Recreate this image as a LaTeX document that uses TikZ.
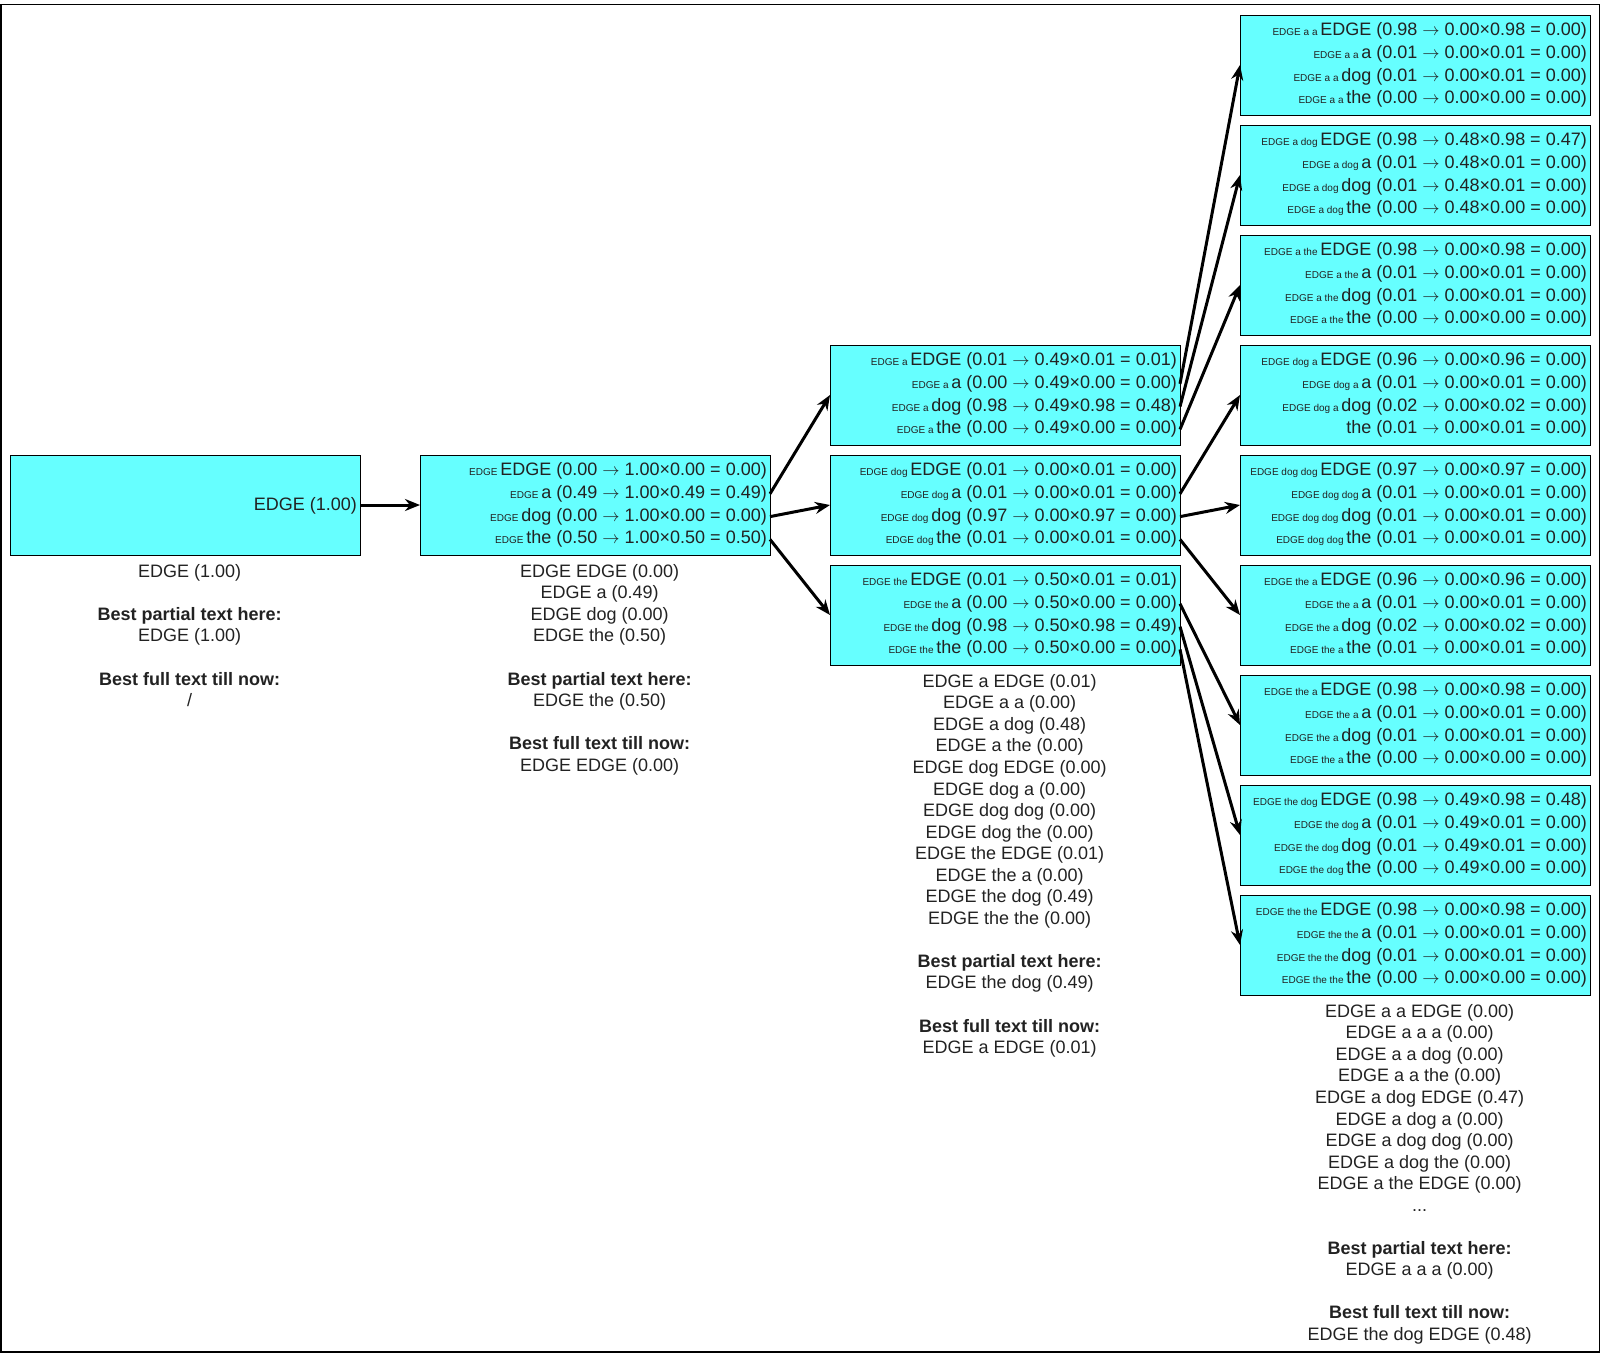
\documentclass[tikz,border=0pt]{standalone}
\usepackage{fontspec}
\setmainfont{Liberation Sans}
\usetikzlibrary{positioning,arrows.meta}
\definecolor{beamcyan}{HTML}{66FFFF}
\definecolor{inkgray}{HTML}{222222}
% small history prefix in front of a token
\newcommand{\hist}[1]{{\fontsize{10}{12}\selectfont #1 }}
% the arrow between a score and its product
\newcommand{\yields}{$\rightarrow$}
% four scored rows inside a beam box
\newcommand{\beamrows}[5]{%
  \foreach \txt [count=\i] in {{#2},{#3},{#4},{#5}}
    \node[beamrow] (#1-\i) at ([yshift=6.8-22.8*\i]#1.north east) {\txt};}

\begin{document}
\begin{tikzpicture}
    [x=1pt, y=1pt,
    beam/.style={draw, line width=1pt, fill=beamcyan, minimum width=350pt, minimum height=100pt, inner sep=0pt, outer sep=0pt},
    beamrow/.style={anchor=east, inner xsep=3pt, inner ysep=0pt, text height=13pt, text depth=4pt, text=inkgray, font=\fontsize{18}{22}\selectfont},
    notes/.style={align=center, inner sep=0pt, xshift=4.6pt, text=inkgray, font=\fontsize{18}{21.55}\selectfont},
    link/.style={-{Stealth[length=15pt, width=12pt]}, line width=3pt}]
        \useasboundingbox (0,0) rectangle (1601,-1355);
        \draw[line width=1.3pt] (1,-4.5) rectangle (1599.5,-1352);

        % step 0
        \node[beam, anchor=north west] (b0) at (10,-455) {};
        \node[beamrow] (b0-1) at ([yshift=-0.5]b0.east) {EDGE (1.00)};
        \node[notes, below=9pt of b0] (n0) {EDGE (1.00)\\[21.55pt]
            \textbf{Best partial text here:}\\ EDGE (1.00)\\[21.55pt]
            \textbf{Best full text till now:}\\ /};

        % step 1
        \node[beam, right=60pt of b0] (b1) {};
        \beamrows{b1}{\hist{EDGE}EDGE (0.00 \yields{} 1.00×0.00 = 0.00)}
            {\hist{EDGE}a (0.49 \yields{} 1.00×0.49 = 0.49)}
            {\hist{EDGE}dog (0.00 \yields{} 1.00×0.00 = 0.00)}
            {\hist{EDGE}the (0.50 \yields{} 1.00×0.50 = 0.50)}
        \node[notes, below=9pt of b1] (n1) {EDGE EDGE (0.00)\\ EDGE a (0.49)\\
            EDGE dog (0.00)\\ EDGE the (0.50)\\[21.55pt]
            \textbf{Best partial text here:}\\ EDGE the (0.50)\\[21.55pt]
            \textbf{Best full text till now:}\\ EDGE EDGE (0.00)};

        % step 2
        \node[beam, right=60pt of b1] (bd) {};
        \node[beam, above=10pt of bd] (ba) {};
        \node[beam, below=10pt of bd] (bt) {};
        \beamrows{ba}{\hist{EDGE a}EDGE (0.01 \yields{} 0.49×0.01 = 0.01)}
            {\hist{EDGE a}a (0.00 \yields{} 0.49×0.00 = 0.00)}
            {\hist{EDGE a}dog (0.98 \yields{} 0.49×0.98 = 0.48)}
            {\hist{EDGE a}the (0.00 \yields{} 0.49×0.00 = 0.00)}
        \beamrows{bd}{\hist{EDGE dog}EDGE (0.01 \yields{} 0.00×0.01 = 0.00)}
            {\hist{EDGE dog}a (0.01 \yields{} 0.00×0.01 = 0.00)}
            {\hist{EDGE dog}dog (0.97 \yields{} 0.00×0.97 = 0.00)}
            {\hist{EDGE dog}the (0.01 \yields{} 0.00×0.01 = 0.00)}
        \beamrows{bt}{\hist{EDGE the}EDGE (0.01 \yields{} 0.50×0.01 = 0.01)}
            {\hist{EDGE the}a (0.00 \yields{} 0.50×0.00 = 0.00)}
            {\hist{EDGE the}dog (0.98 \yields{} 0.50×0.98 = 0.49)}
            {\hist{EDGE the}the (0.00 \yields{} 0.50×0.00 = 0.00)}
        \node[notes, below=9pt of bt] (n2) {EDGE a EDGE (0.01)\\ EDGE a a (0.00)\\
            EDGE a dog (0.48)\\ EDGE a the (0.00)\\ EDGE dog EDGE (0.00)\\
            EDGE dog a (0.00)\\ EDGE dog dog (0.00)\\ EDGE dog the (0.00)\\
            EDGE the EDGE (0.01)\\ EDGE the a (0.00)\\ EDGE the dog (0.49)\\
            EDGE the the (0.00)\\[21.55pt]
            \textbf{Best partial text here:}\\ EDGE the dog (0.49)\\[21.55pt]
            \textbf{Best full text till now:}\\ EDGE a EDGE (0.01)};

        % step 3
        \node[beam, right=60pt of bd] (bdd) {};
        \node[beam, above=10pt of bdd] (bda) {};
        \node[beam, above=10pt of bda] (bat) {};
        \node[beam, above=10pt of bat] (bad) {};
        \node[beam, above=10pt of bad] (baa) {};
        \node[beam, below=10pt of bdd] (bdt) {};
        \node[beam, below=10pt of bdt] (bta) {};
        \node[beam, below=10pt of bta] (btd) {};
        \node[beam, below=10pt of btd] (btt) {};
        \beamrows{baa}{\hist{EDGE a a}EDGE (0.98 \yields{} 0.00×0.98 = 0.00)}
            {\hist{EDGE a a}a (0.01 \yields{} 0.00×0.01 = 0.00)}
            {\hist{EDGE a a}dog (0.01 \yields{} 0.00×0.01 = 0.00)}
            {\hist{EDGE a a}the (0.00 \yields{} 0.00×0.00 = 0.00)}
        \beamrows{bad}{\hist{EDGE a dog}EDGE (0.98 \yields{} 0.48×0.98 = 0.47)}
            {\hist{EDGE a dog}a (0.01 \yields{} 0.48×0.01 = 0.00)}
            {\hist{EDGE a dog}dog (0.01 \yields{} 0.48×0.01 = 0.00)}
            {\hist{EDGE a dog}the (0.00 \yields{} 0.48×0.00 = 0.00)}
        \beamrows{bat}{\hist{EDGE a the}EDGE (0.98 \yields{} 0.00×0.98 = 0.00)}
            {\hist{EDGE a the}a (0.01 \yields{} 0.00×0.01 = 0.00)}
            {\hist{EDGE a the}dog (0.01 \yields{} 0.00×0.01 = 0.00)}
            {\hist{EDGE a the}the (0.00 \yields{} 0.00×0.00 = 0.00)}
        \beamrows{bda}{\hist{EDGE dog a}EDGE (0.96 \yields{} 0.00×0.96 = 0.00)}
            {\hist{EDGE dog a}a (0.01 \yields{} 0.00×0.01 = 0.00)}
            {\hist{EDGE dog a}dog (0.02 \yields{} 0.00×0.02 = 0.00)}
            {the (0.01 \yields{} 0.00×0.01 = 0.00)}
        \beamrows{bdd}{\hist{EDGE dog dog}EDGE (0.97 \yields{} 0.00×0.97 = 0.00)}
            {\hist{EDGE dog dog}a (0.01 \yields{} 0.00×0.01 = 0.00)}
            {\hist{EDGE dog dog}dog (0.01 \yields{} 0.00×0.01 = 0.00)}
            {\hist{EDGE dog dog}the (0.01 \yields{} 0.00×0.01 = 0.00)}
        \beamrows{bdt}{\hist{EDGE the a}EDGE (0.96 \yields{} 0.00×0.96 = 0.00)}
            {\hist{EDGE the a}a (0.01 \yields{} 0.00×0.01 = 0.00)}
            {\hist{EDGE the a}dog (0.02 \yields{} 0.00×0.02 = 0.00)}
            {\hist{EDGE the a}the (0.01 \yields{} 0.00×0.01 = 0.00)}
        \beamrows{bta}{\hist{EDGE the a}EDGE (0.98 \yields{} 0.00×0.98 = 0.00)}
            {\hist{EDGE the a}a (0.01 \yields{} 0.00×0.01 = 0.00)}
            {\hist{EDGE the a}dog (0.01 \yields{} 0.00×0.01 = 0.00)}
            {\hist{EDGE the a}the (0.00 \yields{} 0.00×0.00 = 0.00)}
        \beamrows{btd}{\hist{EDGE the dog}EDGE (0.98 \yields{} 0.49×0.98 = 0.48)}
            {\hist{EDGE the dog}a (0.01 \yields{} 0.49×0.01 = 0.00)}
            {\hist{EDGE the dog}dog (0.01 \yields{} 0.49×0.01 = 0.00)}
            {\hist{EDGE the dog}the (0.00 \yields{} 0.49×0.00 = 0.00)}
        \beamrows{btt}{\hist{EDGE the the}EDGE (0.98 \yields{} 0.00×0.98 = 0.00)}
            {\hist{EDGE the the}a (0.01 \yields{} 0.00×0.01 = 0.00)}
            {\hist{EDGE the the}dog (0.01 \yields{} 0.00×0.01 = 0.00)}
            {\hist{EDGE the the}the (0.00 \yields{} 0.00×0.00 = 0.00)}
        \node[notes, below=9pt of btt] (n3) {EDGE a a EDGE (0.00)\\ EDGE a a a (0.00)\\
            EDGE a a dog (0.00)\\ EDGE a a the (0.00)\\ EDGE a dog EDGE (0.47)\\
            EDGE a dog a (0.00)\\ EDGE a dog dog (0.00)\\ EDGE a dog the (0.00)\\
            EDGE a the EDGE (0.00)\\ ...\\[21.55pt]
            \textbf{Best partial text here:}\\ EDGE a a a (0.00)\\[21.55pt]
            \textbf{Best full text till now:}\\ EDGE the dog EDGE (0.48)};

        % connectors
        \draw[link] (b0) -- (b1);
        \draw[link] (b1-2.east) -- (ba.west);
        \draw[link] (b1-3.east) -- (bd.west);
        \draw[link] (b1-4.east) -- (bt.west);
        \draw[link] (ba-2.east) -- (baa.west);
        \draw[link] (ba-3.east) -- (bad.west);
        \draw[link] (ba-4.east) -- (bat.west);
        \draw[link] (bd-2.east) -- (bda.west);
        \draw[link] (bd-3.east) -- (bdd.west);
        \draw[link] (bd-4.east) -- (bdt.west);
        \draw[link] (bt-2.east) -- (bta.west);
        \draw[link] (bt-3.east) -- (btd.west);
        \draw[link] (bt-4.east) -- (btt.west);
\end{tikzpicture}
\end{document}
